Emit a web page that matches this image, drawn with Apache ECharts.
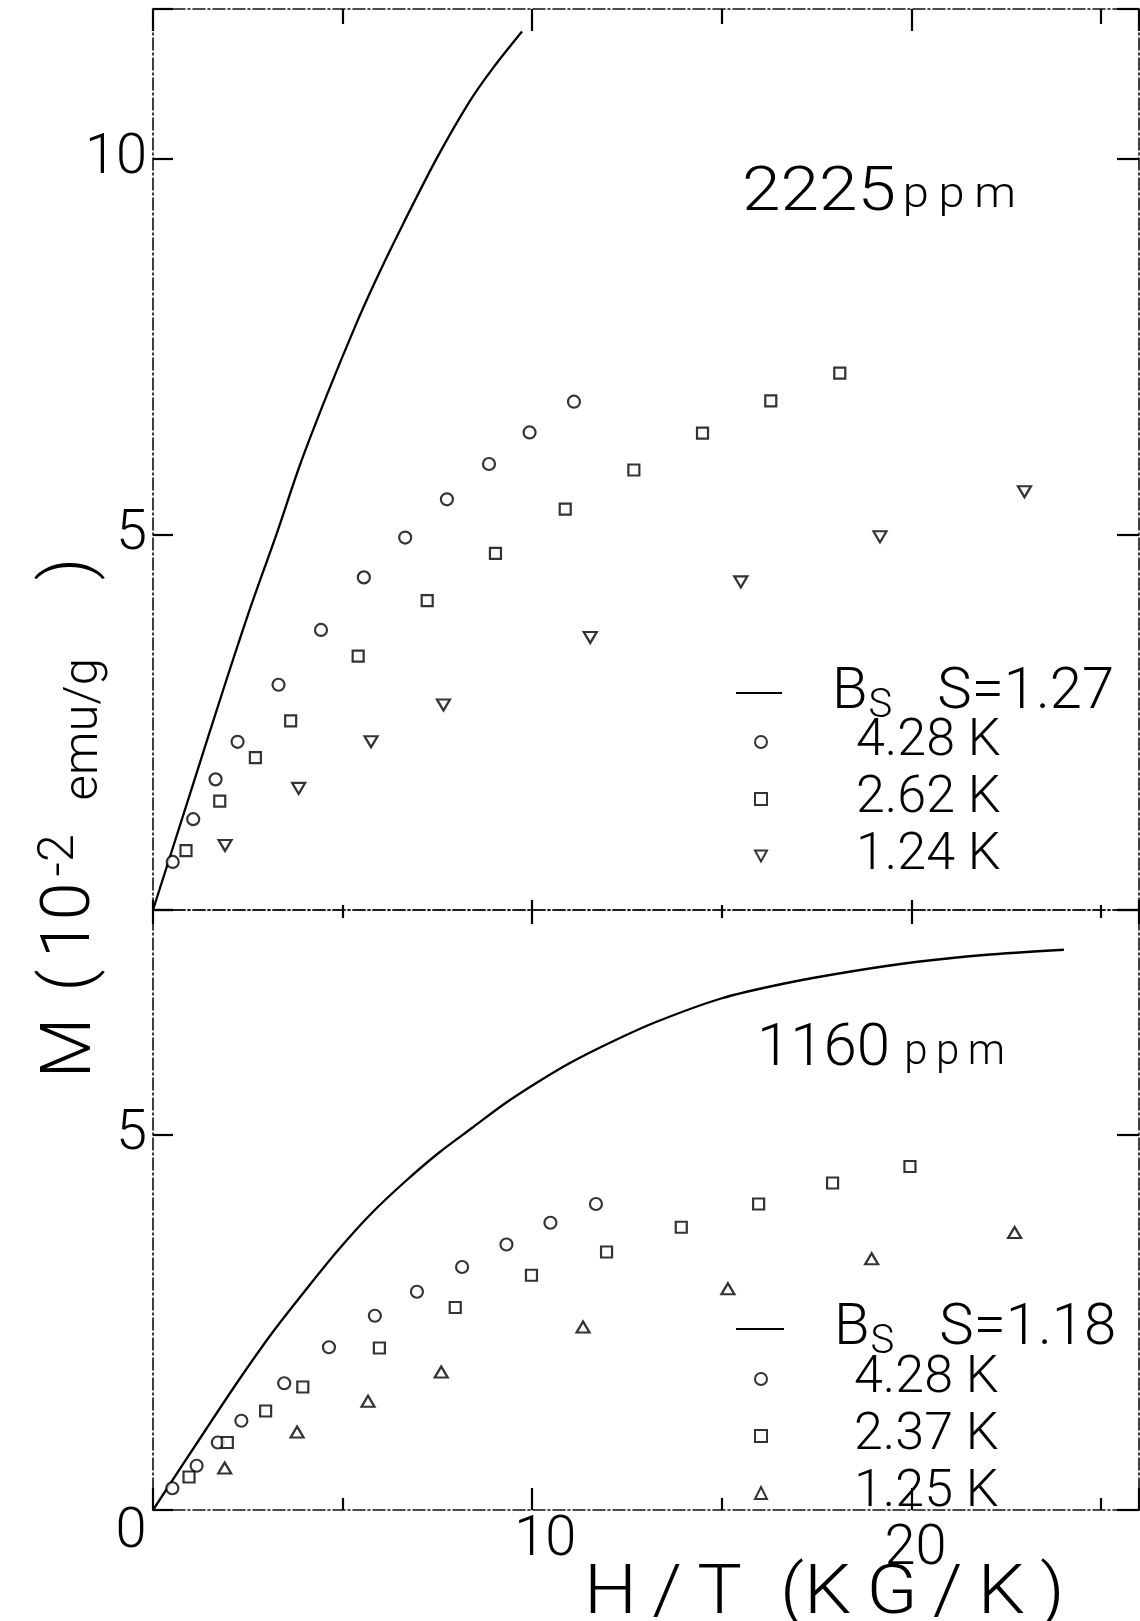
<!DOCTYPE html>
<html>
<head>
<meta charset="utf-8">
<title>M versus H/T, 2225 ppm and 1160 ppm</title>
<script src="https://cdn.jsdelivr.net/npm/echarts@6/dist/echarts.min.js"></script>
<style>
  html, body { margin: 0; padding: 0; background: #fff; }
  #chart { width: 1140px; height: 1621px; }
</style>
</head>
<body>
<div id="chart"></div>
<script>
// Magnetization M (10^-2 emu/g) against H/T (kG/K), two concentrations.
// Each panel: Brillouin curve B_S plus measured points at three temperatures.

// ---- 2225 ppm panel ----
const bsTop = [[0,0],[1.06,1.68],[1.85,2.93],[2.55,4.00],[3.26,5.01],[3.87,5.92],[4.57,6.84],[5.32,7.76],[5.85,8.36],[6.46,9.00],[7.47,10.00],[8.35,10.77],[8.96,11.21],[9.73,11.70]];
const top428 = [[0.52,0.64],[1.06,1.21],[1.65,1.74],[2.23,2.24],[3.31,3.00],[4.43,3.73],[5.56,4.43],[6.65,4.96],[7.75,5.47],[8.86,5.94],[9.93,6.36],[11.10,6.77]];
const top262 = [[0.87,0.79],[1.76,1.45],[2.70,2.03],[3.63,2.52],[5.41,3.38],[7.23,4.12],[9.03,4.75],[10.87,5.34],[12.68,5.86],[14.49,6.35],[16.29,6.78],[18.11,7.15]];
const top124 = [[1.90,0.86],[3.84,1.62],[5.75,2.24],[7.66,2.73],[11.53,3.63],[15.50,4.37],[19.17,4.97],[22.98,5.57]];

// ---- 1160 ppm panel ----
const bsBottom = [[0,0],[1.39,1.07],[2.26,1.73],[3.14,2.36],[4.02,2.93],[4.89,3.47],[5.77,3.96],[6.65,4.38],[7.53,4.76],[8.40,5.09],[9.28,5.42],[10.16,5.71],[11.03,5.97],[12.09,6.24],[13.23,6.50],[14.98,6.82],[16.65,7.02],[18.40,7.18],[20.16,7.31],[21.91,7.40],[24.02,7.47]];
const bot428 = [[0.51,0.29],[1.15,0.59],[1.71,0.90],[2.33,1.19],[3.46,1.69],[4.64,2.17],[5.85,2.59],[6.96,2.91],[8.15,3.24],[9.32,3.54],[10.48,3.83],[11.68,4.08]];
const bot237 = [[0.95,0.44],[1.96,0.90],[2.97,1.32],[3.95,1.64],[5.97,2.16],[7.97,2.70],[9.98,3.13],[11.96,3.44],[13.93,3.77],[15.97,4.08],[17.92,4.36],[19.96,4.58]];
const bot125 = [[1.89,0.56],[3.80,1.04],[5.67,1.45],[7.60,1.84],[11.34,2.44],[15.16,2.95],[18.95,3.35],[22.72,3.70]];

// ---- axis ranges and tick labels ----
const xRange = [0, 26];
const yTopRange = [0, 12];
const yBottomRange = [0, 8];
const xTickLabels = [0, 10, 20];
const yTopTickLabels = [5, 10];
const yBottomTickLabels = [5];

// ---- legend texts ----
const DOWN_TRIANGLE = 'path://M0,0L12,0L6,11Z';
const topCurveLegend = [{ id: 'top-bs', text: '{b|B}{s|S}{r|S=1.27}' }];
const topPointLegend = [
  { id: 'top-428', text: '{k|4.28 K}' },
  { id: 'top-262', text: '{k|2.62 K}' },
  { id: 'top-124', text: '{k|1.24 K}', icon: DOWN_TRIANGLE }
];
const bottomCurveLegend = [{ id: 'bot-bs', text: '{b|B}{s|S}{r|S=1.18}' }];
const bottomPointLegend = [
  { id: 'bot-428', text: '{k|4.28 K}' },
  { id: 'bot-237', text: '{k|2.37 K}' },
  { id: 'bot-125', text: '{k|1.25 K}' }
];

const FONT = 'Roboto, "Noto Sans", "DejaVu Sans", sans-serif';
const INK = '#000';

const axisLineStyle = { color: '#111', width: 1.6, type: [12, 3, 2, 3] };
const tickStyle = { color: INK, width: 2.2 };

function xAxisDef(gridIndex, position, major, minor, withLabels) {
  const tok = { fontFamily: FONT, fontWeight: 300, fontSize: 56, color: INK };
  return {
    type: 'value', gridIndex, position,
    min: xRange[0], max: xRange[1], interval: 10,
    axisLine: { show: true, onZero: false, lineStyle: axisLineStyle },
    axisTick: { show: true, inside: true, length: major, lineStyle: tickStyle },
    minorTick: { show: true, splitNumber: 2, length: minor, lineStyle: tickStyle },
    splitLine: { show: false }, minorSplitLine: { show: false },
    axisLabel: withLabels ? {
      show: true, margin: -5, color: INK,
      fontFamily: FONT, fontWeight: 300, fontSize: 56,
      formatter: v => {
        if (!xTickLabels.includes(v)) return '';
        if (v === 0) return '{z|0}';
        if (v === 10) return '{t|10}';
        return '{w|' + v + '}';
      },
      rich: {
        z: Object.assign({ padding: [0, 44, 0, 0] }, tok),
        t: Object.assign({ padding: [8, 0, 0, 26] }, tok),
        w: Object.assign({ padding: [17, 0, 0, 8] }, tok)
      }
    } : { show: false }
  };
}

function yAxisDef(gridIndex, position, range, len, labels) {
  return {
    type: 'value', gridIndex, position,
    min: range[0], max: range[1], interval: 5,
    axisLine: { show: true, onZero: false, lineStyle: axisLineStyle },
    axisTick: { show: true, inside: true, length: len, lineStyle: tickStyle },
    splitLine: { show: false },
    axisLabel: labels ? {
      show: true, margin: 6, color: INK,
      fontFamily: FONT, fontWeight: 300, fontSize: 56,
      formatter: v => (labels.includes(v) ? String(v) : '')
    } : { show: false }
  };
}

const markerStyle = { color: '#fff', borderColor: INK, borderWidth: 2.2 };

function curve(id, xi, yi, data) {
  return {
    id, name: id, type: 'line', xAxisIndex: xi, yAxisIndex: yi, data,
    symbol: 'none', smooth: 0.3, z: 2,
    lineStyle: { color: INK, width: 2.3 }, itemStyle: { color: INK }
  };
}
function points(id, xi, yi, data, symbol, size, rotate) {
  return {
    id, name: id, type: 'scatter', xAxisIndex: xi, yAxisIndex: yi, data,
    symbol, symbolSize: size, symbolRotate: rotate || 0, z: 3,
    itemStyle: markerStyle
  };
}

const curveRich = {
  b: { fontFamily: FONT, fontWeight: 300, fontSize: 58, color: INK, lineHeight: 54, verticalAlign: 'middle', padding: [0, 0, 0, 45] },
  s: { fontFamily: FONT, fontWeight: 300, fontSize: 40, color: INK, lineHeight: 24, verticalAlign: 'middle', padding: [28, 0, 0, 1] },
  r: { fontFamily: FONT, fontWeight: 300, fontSize: 58, color: INK, lineHeight: 54, verticalAlign: 'middle', padding: [0, 0, 0, 45] }
};
function pointRich(lh, pad) {
  return { k: { fontFamily: FONT, fontWeight: 300, fontSize: 52, color: INK, lineHeight: lh, verticalAlign: 'middle', padding: [0, 0, 0, pad] } };
}

function legendDef(items, left, top, w, h, rich, icon) {
  const lookup = {};
  items.forEach(it => { lookup[it.id] = it.text; });
  return {
    orient: 'vertical', left, top, padding: 0, itemGap: 5,
    itemWidth: w, itemHeight: h, selectedMode: false,
    data: items.map(it => {
      const ic = it.icon || icon;
      return ic ? { name: it.id, icon: ic } : it.id;
    }),
    formatter: name => lookup[name],
    textStyle: { color: INK, fontFamily: FONT, fontWeight: 300, rich }
  };
}

const chart = echarts.init(document.getElementById('chart'), null, { renderer: 'canvas' });

chart.setOption({
  animation: false,
  backgroundColor: '#fff',
  grid: [
    { left: 153, top: 9, width: 986, height: 901, outerBoundsMode: 'none', containLabel: false },
    { left: 153, top: 910, width: 986, height: 600, outerBoundsMode: 'none', containLabel: false }
  ],
  xAxis: [
    xAxisDef(0, 'bottom', 10, 5, false),
    xAxisDef(0, 'top', 22, 15, false),
    xAxisDef(1, 'bottom', 22, 12, true),
    xAxisDef(1, 'top', 14, 8, false)
  ],
  yAxis: [
    yAxisDef(0, 'left', yTopRange, 20, yTopTickLabels),
    yAxisDef(0, 'right', yTopRange, 22, null),
    yAxisDef(1, 'left', yBottomRange, 20, yBottomTickLabels),
    yAxisDef(1, 'right', yBottomRange, 22, null)
  ],
  legend: [
    legendDef(topCurveLegend, 736, 659, 46, 2, curveRich, 'rect'),
    legendDef(topPointLegend, 754, 716, 12, 12, pointRich(52, 84), null),
    legendDef(bottomCurveLegend, 736, 1295, 48, 2, curveRich, 'rect'),
    legendDef(bottomPointLegend, 754, 1353, 12, 12, pointRich(48, 82), null)
  ],
  series: [
    curve('top-bs', 0, 0, bsTop),
    points('top-428', 0, 0, top428, 'circle', 12),
    points('top-262', 0, 0, top262, 'rect', 11),
    points('top-124', 0, 0, top124, 'triangle', [13, 11], 180),
    curve('bot-bs', 2, 2, bsBottom),
    points('bot-428', 2, 2, bot428, 'circle', 12),
    points('bot-237', 2, 2, bot237, 'rect', 11),
    points('bot-125', 2, 2, bot125, 'triangle', [13, 11])
  ],
  graphic: [
    {
      // vertical axis title, read bottom to top
      type: 'text', x: 72, y: 818, rotation: Math.PI / 2,
      style: {
        text: '{m|M}{p|(}{n|10}{u|-2}{e|emu/g}{q|)}',
        align: 'center', verticalAlign: 'middle', fill: INK,
        rich: {
          m: { fontFamily: FONT, fontWeight: 300, fontSize: 70, lineHeight: 74, verticalAlign: 'middle', fill: INK },
          p: { fontFamily: FONT, fontWeight: 300, fontSize: 68, lineHeight: 74, verticalAlign: 'middle', fill: INK, padding: [0, 0, 0, 26] },
          n: { fontFamily: FONT, fontWeight: 300, fontSize: 68, lineHeight: 74, verticalAlign: 'middle', fill: INK, padding: [0, 0, 0, 12] },
          u: { fontFamily: FONT, fontWeight: 300, fontSize: 50, lineHeight: 46, verticalAlign: 'top', fill: INK, padding: [0, 0, 0, 6] },
          e: { fontFamily: FONT, fontWeight: 300, fontSize: 49, lineHeight: 54, verticalAlign: 'bottom', fill: INK, padding: [0, 0, 0, 34] },
          q: { fontFamily: FONT, fontWeight: 300, fontSize: 68, lineHeight: 74, verticalAlign: 'middle', fill: INK, padding: [0, 0, 0, 78] }
        }
      }
    },
    {
      // horizontal axis title
      type: 'text', x: 584, y: 1596, scaleX: 1.1,
      style: {
        text: 'H\u2009/\u2009T\u2002(K\u2009G\u2009/\u2009K\u2009)',
        fontFamily: FONT, fontWeight: 300, fontSize: 68,
        align: 'left', verticalAlign: 'middle', fill: INK
      }
    },
    {
      type: 'text', x: 742, y: 194, scaleX: 1.12,
      style: {
        text: '{n|2225}{u|p\u2009p\u2009m}',
        align: 'left', verticalAlign: 'middle', fill: INK,
        rich: {
          n: { fontFamily: FONT, fontWeight: 300, fontSize: 62, lineHeight: 62, verticalAlign: 'bottom', fill: INK },
          u: { fontFamily: FONT, fontWeight: 300, fontSize: 42, lineHeight: 42, verticalAlign: 'bottom', fill: INK, padding: [0, 0, 8, 6] }
        }
      }
    },
    {
      type: 'text', x: 757, y: 1050,
      style: {
        text: '{n|1160}{u|p\u2009p\u2009m}',
        align: 'left', verticalAlign: 'middle', fill: INK,
        rich: {
          n: { fontFamily: FONT, fontWeight: 300, fontSize: 60, lineHeight: 60, verticalAlign: 'bottom', fill: INK },
          u: { fontFamily: FONT, fontWeight: 300, fontSize: 42, lineHeight: 42, verticalAlign: 'bottom', fill: INK, padding: [0, 0, 6, 14] }
        }
      }
    }
  ]
});
</script>
</body>
</html>
